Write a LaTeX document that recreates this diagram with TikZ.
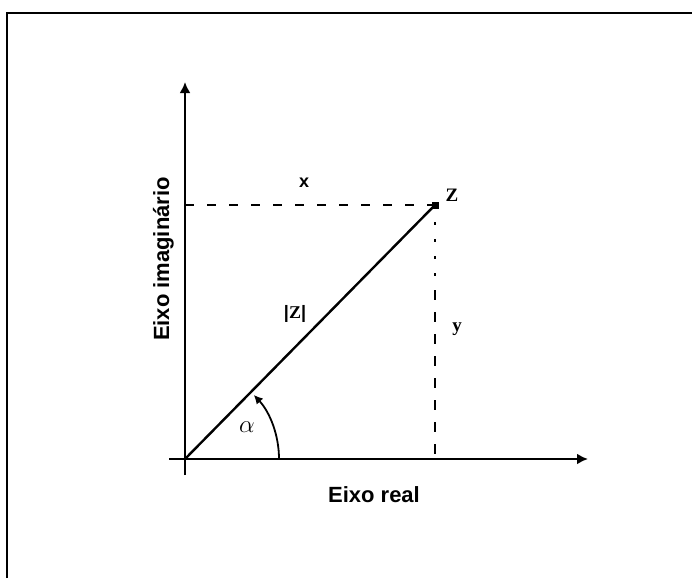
\documentclass[tikz,border=0pt]{standalone}
\usepackage{fontspec}
\setmainfont{Liberation Serif}
\setsansfont{Liberation Sans}
\usetikzlibrary{arrows.meta}
\tikzset{
  axis/.style={line width=2.2pt,-{Latex[length=11pt,width=11pt]}},
  guide/.style={line width=1.6pt,dash pattern=on 9pt off 13pt},
  lbl/.style={font=\sffamily\bfseries\fontsize{22}{26}\selectfont,inner sep=0pt},
  smlbl/.style={font=\sffamily\bfseries\fontsize{18}{21}\selectfont,inner sep=0pt},
  serlbl/.style={font=\rmfamily\bfseries\fontsize{19}{22}\selectfont,inner sep=0pt},
}
\begin{document}
\begin{tikzpicture}[x=1pt,y=1pt]
\useasboundingbox (0,0) rectangle (692,-578);
% frame
\draw[line width=2pt] (7,-578) -- (7,-13) -- (692,-13);
% coordinates
\coordinate (O) at (185,-459);
\coordinate (xs) at (169,-459);
\coordinate (xe) at (588,-459);
\coordinate (ys) at (185,-475);
\coordinate (ye) at (185,-82);
\coordinate (Z) at (435,-205);
\coordinate (Zy) at (185,-205);
\coordinate (Zx) at (435,-459);
\coordinate (Zm) at (435,-290);
% axes
\draw[axis] (xs) -- (xe);
\draw[axis] (ys) -- (ye);
% tick
\draw[line width=1.6pt] (Zy) -- ++(5,0);
% guides
\draw[guide] (Zy) -- (Z);
\draw[line width=1.8pt,dash pattern=on 3pt off 14pt] (Z) -- (Zm);
\draw[line width=1.8pt,dash pattern=on 10pt off 12pt] (Zm) -- (Zx);
% vector
\draw[line width=2.4pt] (O) -- (Z);
\fill (Z) ++(-3.5,-3.5) rectangle ++(7,7);
% angle arc
\draw[line width=1.8pt,-{Latex[length=9pt,width=9pt]}] (279,-459) arc[start angle=0,end angle=43,radius=94];
% labels
\node[smlbl] (lx) at (304,-183) {x};
\node[serlbl] (lz) at (452,-195) {Z};
\node[smlbl] (lmod) at (295,-314) {|\textrm{Z}|};
\node[serlbl] (ly) at (457,-329) {y};
\node[inner sep=0pt,font=\fontsize{27}{30}\selectfont] (la) at (247,-427) {$\alpha$};
\node[lbl,anchor=base] (lre) at (374,-502) {Eixo real};
\node[lbl,rotate=90,anchor=base] (lim) at (169,-259) {Eixo imaginário};
\end{tikzpicture}
\end{document}
